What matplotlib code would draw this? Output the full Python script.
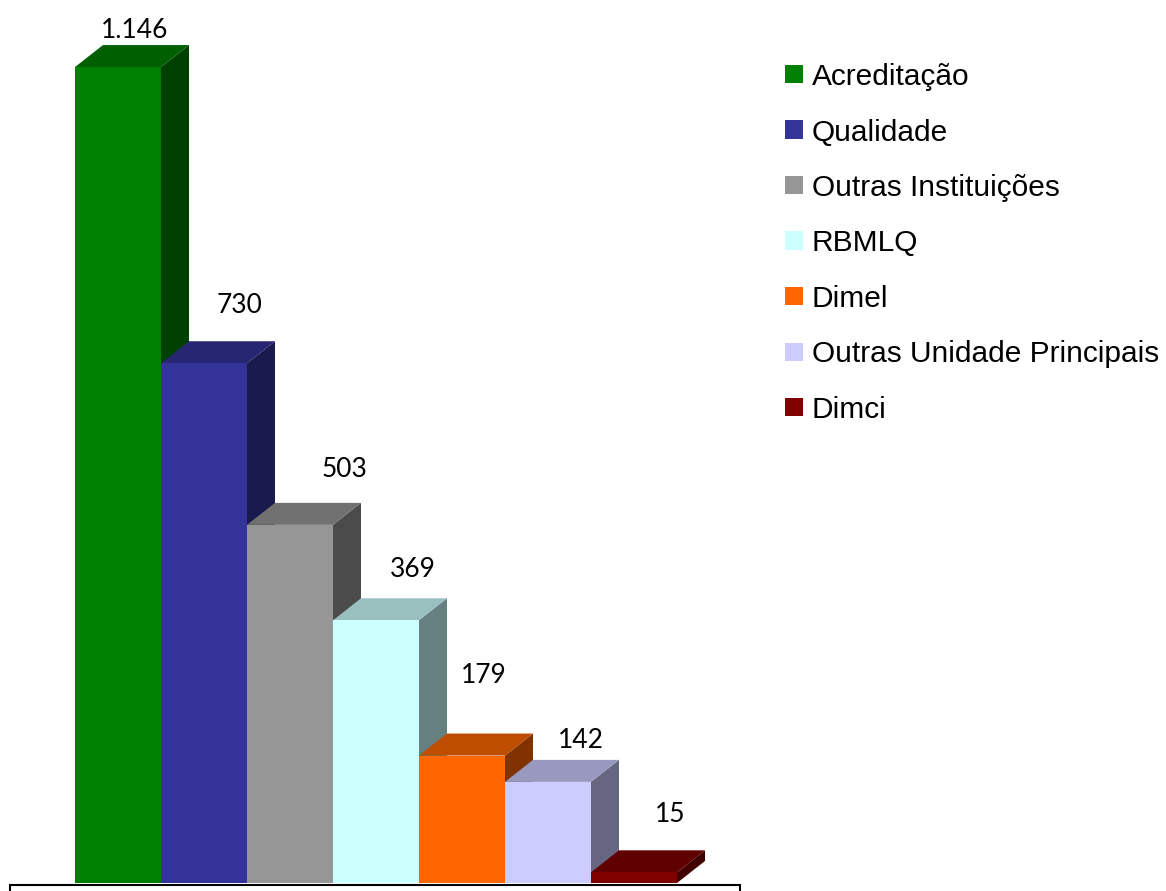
import matplotlib.pyplot as plt
from matplotlib.patches import Rectangle
import matplotlib.colors as mcolors

categories = ["Acreditação", "Qualidade", "Outras Instituições", "RBMLQ",
              "Dimel", "Outras Unidade Principais", "Dimci"]
values = [1146, 730, 503, 369, 179, 142, 15]
labels = ["1.146", "730", "503", "369", "179", "142", "15"]
colors = ["#008000", "#333399", "#969696", "#CCFFFF", "#FF6600", "#CCCCFF", "#800000"]

# hand-placed data labels in the original: (x, y) pixel nudges from the back top edge
label_nudge_px = [(-11.5, 17.5), (7.5, 38), (26.5, 36), (9, 31),
                  (-6.5, 60.5), (4.5, 22), (8.5, 38)]


def shade(c, f):
    r, g, b = mcolors.to_rgb(c)
    return (r * f, g * f, b * f)


fig = plt.figure(figsize=(11.66, 8.91), dpi=100)
ax = fig.add_axes([0, 0, 1, 1])
# 1 bar unit = 86 px, 1 value unit = 0.712 px
px_x = 86
px_y = 0.712
ax.set_xlim(-75 / px_x, (1166 - 75) / px_x)
ax.set_ylim(-8 / px_y, 883 / px_y)
ax.axis("off")

dx = 28 / px_x   # depth offset in bar units
dy = 22 / px_y   # depth offset in value units

# floor box
ax.add_patch(Rectangle((-65 / px_x, -60), 730 / px_x, 57, facecolor="white",
                       edgecolor="black", linewidth=1.5, zorder=1))

for i, (v, c) in enumerate(zip(values, colors)):
    x0, x1 = i, i + 1
    # side face
    ax.fill([x1, x1 + dx, x1 + dx, x1], [0, dy, v + dy, v],
            color=shade(c, 0.5), lw=0, zorder=2 + i)
    # top face
    ax.fill([x0, x1, x1 + dx, x0 + dx], [v, v, v + dy, v + dy],
            color=shade(c, 0.75), lw=0, zorder=2 + i)
    # front face
    ax.fill([x0, x1, x1, x0], [0, 0, v, v], color=c, lw=0, zorder=2 + i)
    nx, ny = label_nudge_px[i]
    ax.text(i + 0.5 + dx + nx / px_x, v + dy + ny / px_y, labels[i],
            ha="center", va="center_baseline", fontsize=19, family="Lato", zorder=20)

# legend
for i, (name, c) in enumerate(zip(categories, colors)):
    yc = 1 - (74 + i * 55.5) / 891
    fig.patches.append(Rectangle((785 / 1166, yc - 9 / 891), 18 / 1166, 18 / 891,
                                 facecolor=c, edgecolor="none",
                                 transform=fig.transFigure, figure=fig))
    fig.text(812 / 1166, yc, name, ha="left", va="center_baseline", fontsize=21.5,
             family="Liberation Sans")

plt.savefig("out.png", dpi=100)
